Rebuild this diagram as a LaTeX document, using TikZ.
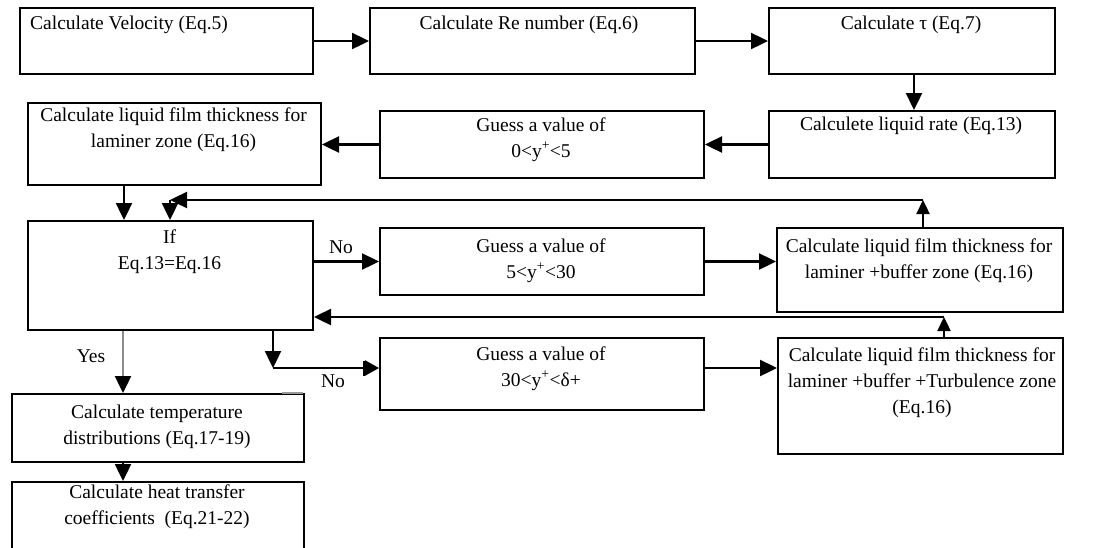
\documentclass[tikz,border=0pt]{standalone}
\usepackage{fontspec}
\setmainfont{Liberation Serif}
\usetikzlibrary{arrows.meta,calc}
\newcommand\mlines[1]{\vtop{\halign{\hfil##\hfil\cr#1\crcr}}}
\begin{document}
\begin{tikzpicture}[x=1pt,y=-1pt,
  box/.style={draw, line width=2pt, inner sep=0pt, anchor=north west},
  txt/.style={inner sep=0pt, anchor=base, font=\fontsize{19.5}{26}\selectfont},
  arr/.style={line width=2.4pt, -{Triangle[length=17pt,width=16pt]}},
  smallarr/.style={line width=2.4pt, -{Triangle[length=14pt,width=13pt]}},
  arrbar/.style={line width=2.4pt, -{Bar[width=15pt,line width=1.6pt,sep=0pt]Triangle[length=14pt,width=15pt]}},
  yesarr/.style={line width=2.4pt, draw=black!45, -{Triangle[length=17pt,width=16pt,black]}}]
\useasboundingbox (0,0) rectangle (1114,547);
\clip (0,0) rectangle (1114,547);
% boxes
\node[box, minimum width=293pt, minimum height=66pt] (b1) at (19,7) {};
\node[box, minimum width=325pt, minimum height=66pt] (b2) at (369,7) {};
\node[box, minimum width=286pt, minimum height=66pt] (b3) at (768,7) {};
\node[box, minimum width=286pt, minimum height=67pt] (b4) at (768,110) {};
\node[box, minimum width=324pt, minimum height=67pt] (b5) at (379,110) {};
\node[box, minimum width=293pt, minimum height=82pt] (b6) at (27,102) {};
\node[box, minimum width=285pt, minimum height=109pt] (b7) at (27,220) {};
\node[box, minimum width=324pt, minimum height=67pt] (b8) at (379,227) {};
\node[box, minimum width=286pt, minimum height=84pt] (b9) at (776,227) {};
\node[box, minimum width=324pt, minimum height=72pt] (b10) at (379,337) {};
\node[box, minimum width=285pt, minimum height=116pt] (b11) at (777,337) {};
\node[box, minimum width=292pt, minimum height=68pt] (b12) at (11,393) {};
\node[box, minimum width=292pt, minimum height=90pt] (b13) at (11,481) {};
\draw[black!40, line width=2pt] (282,393) -- (303,393);
% texts
\node[txt, anchor=base west] (t1) at (30,29.5) {Calculate Velocity (Eq.5)};
\node[txt] (t2) at (529,29.5) {Calculate Re number (Eq.6)};
\node[txt] (t3) at (911,29.5) {Calculate τ (Eq.7)};
\node[txt] (t4) at (911,130.5) {Calculete liquid rate (Eq.13)};
\node[txt] (t5) at (541,131.5) {\mlines{Guess a value of\cr 0<y\textsuperscript{+}<5}};
\node[txt] (t6) at (173.5,121.5) {\mlines{Calculate liquid film thickness for\cr laminer zone (Eq.16)}};
\node[txt] (t7) at (169.5,243.5) {\mlines{If\cr Eq.13=Eq.16}};
\node[txt] (t8) at (541,252.5) {\mlines{Guess a value of\cr 5<y\textsuperscript{+}<30}};
\node[txt] (t9) at (919,252.5) {\mlines{Calculate liquid film thickness for\cr laminer +buffer zone (Eq.16)}};
\node[txt] (t10) at (541,360.5) {\mlines{Guess a value of\cr 30<y\textsuperscript{+}<δ+}};
\node[txt] (t11) at (922,361.5) {\mlines{Calculate liquid film thickness for\cr laminer +buffer +Turbulence zone\cr (Eq.16)}};
\node[txt] (t12) at (157,418.5) {\mlines{Calculate temperature\cr distributions (Eq.17-19)}};
\node[txt] (t13) at (157,498.5) {\mlines{Calculate heat transfer\cr coefficients~ (Eq.21-22)}};
\node[txt] (no1) at (341,253) {No};
\node[txt] (no2) at (333,387) {No};
\node[txt] (yes) at (91,362) {Yes};
% coordinates
\coordinate (fb1) at (923,200);
\coordinate (fb1e) at (170,200);
\coordinate (fb2) at (944,317);
\coordinate (nb) at (273,368);
% connectors
\draw[arr] (b1.east) -- (b2.west);
\draw[arr] (b2.east) -- (b3.west);
\draw[arr] ([xshift=2pt]b3.south) -- ([xshift=2pt]b4.north);
\draw[arr] (b4.west) -- (b5.east);
\draw[arr] (b5.west) -- (b5.west -| b6.east);
\draw[arr] ([xshift=97pt]b6.south west) -- ([xshift=97pt]b6.south west |- b7.north);
\draw[arr] (b7.east |- b8.west) -- (b8.west);
\draw[arr] (b8.east) -- (b8.east -| b9.west);
\draw[smallarr] ([xshift=147pt]b9.north west) -- (fb1);
\draw[arr] (fb1) -- (fb1e);
\draw[arr] (fb1e) -- (fb1e |- b7.north);
\draw[smallarr] ([xshift=167pt]b11.north west) -- (fb2);
\draw[arr] (fb2) -- (fb2 -| b7.east);
\draw[arr] ([xshift=246pt]b7.south west) -- (nb);
\draw[arrbar] (nb) -- (nb -| b10.west);
\draw[arr] (b10.east |- nb) -- (nb -| b11.west);
\draw[yesarr] ([xshift=96pt]b7.south west) -- ([xshift=96pt]b7.south west |- b12.north);
\draw[arr] ([xshift=112pt]b12.south west) -- ([xshift=112pt]b12.south west |- b13.north);
\end{tikzpicture}
\end{document}
